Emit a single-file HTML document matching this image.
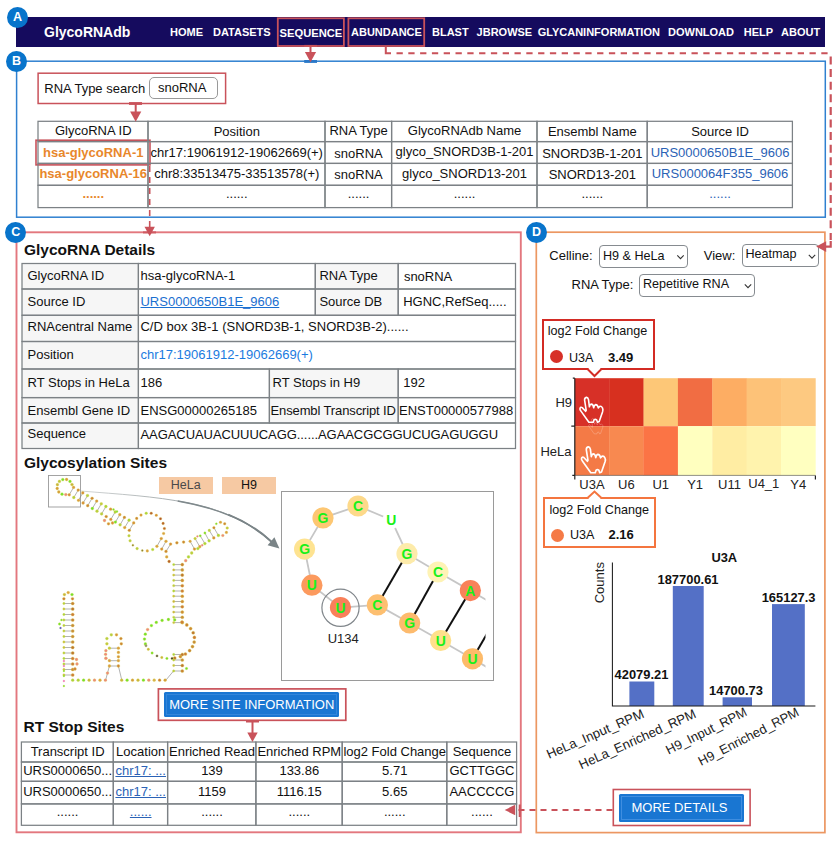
<!DOCTYPE html><html><head><meta charset="utf-8"><title>GlycoRNAdb</title><style>
*{box-sizing:border-box;margin:0;padding:0}
html,body{width:835px;height:842px;background:#fff;overflow:hidden}
body{font-family:"Liberation Sans",Arial,sans-serif;font-size:13px;color:#111;position:relative}
.abs{position:absolute}
.nav{position:absolute;left:16px;top:17px;width:809px;height:29.7px;background:#150b5e}
.nav span{position:absolute;top:0;height:30px;line-height:30px;color:#fff;font-weight:bold;font-size:11px;white-space:nowrap}
.nav .brand{font-size:14px}
.circ{position:absolute;width:21px;height:21px;border-radius:50%;background:#0874cb;color:#fff;font-weight:bold;font-size:12.5px;line-height:21px;text-align:center}
.box{position:absolute;border:1.8px solid}
.rbox{position:absolute;border:1.7px solid #c9525a}
table{border-collapse:collapse;position:absolute;table-layout:fixed}
td{border:2px solid #7c8185;text-align:center;white-space:nowrap;overflow:hidden;font-size:13px;padding:0}
.tb td{height:21.5px}
.or{color:#e8872b;font-weight:bold}
.lk{color:#2b62b5}
.dt td{text-align:left;padding-left:3px}
.dt td.h{background:#f5f5f5;padding-left:6px}
.h2{position:absolute;font-weight:bold;font-size:15.5px;white-space:nowrap;color:#111}
a{color:#1a6fd0;text-decoration:underline}
.btn{position:absolute;background:#1976d2;color:#fff;font-size:13px;text-align:center;white-space:nowrap;border-radius:1.5px}
.sel{position:absolute;border:1px solid #868b90;border-radius:4px;background:#fff;font-size:12.6px;white-space:nowrap;padding-left:4px}
.lbl{position:absolute;white-space:nowrap;font-size:13px}
.d{font-size:12.6px}
.tip{position:absolute;background:#fff;border:2px solid}
.leg{position:absolute;background:#f6c9a3;text-align:center;font-size:12px;color:#333}
</style></head><body><div class="nav"><span class="brand" style="left:28px">GlycoRNAdb</span><span class="" style="left:154px">HOME</span><span class="" style="left:197px">DATASETS</span><span class="" style="left:263.5px;top:0.8px;font-size:11.2px">SEQUENCE</span><span class="" style="left:335px">ABUNDANCE</span><span class="" style="left:416px">BLAST</span><span class="" style="left:460.6px">JBROWSE</span><span class="" style="left:521.7px">GLYCANINFORMATION</span><span class="" style="left:652px">DOWNLOAD</span><span class="" style="left:727.7px">HELP</span><span class="" style="left:765px">ABOUT</span></div>
<svg class="abs" style="left:0;top:0" width="835" height="842" viewBox="0 0 835 842"><rect x="16.6" y="61.2" width="808.6999999999999" height="156.0" fill="none" stroke="#2f80d0" stroke-width="1.5"/><rect x="16.5" y="232.3" width="504.29999999999995" height="600.0" fill="none" stroke="#e3777e" stroke-width="1.9"/><rect x="536.3" y="232.2" width="288.6" height="600.4000000000001" fill="none" stroke="#ec9762" stroke-width="1.7"/><rect x="277.8" y="18.3" width="66.09999999999997" height="27.7" fill="none" stroke="#c9525a" stroke-width="1.8"/><rect x="348.4" y="18.3" width="75.80000000000001" height="27.7" fill="none" stroke="#c9525a" stroke-width="1.8"/><rect x="38.1" y="73.2" width="187.5" height="30.299999999999997" fill="none" stroke="#c9525a" stroke-width="1.5"/><rect x="158.4" y="688.9" width="187.4" height="31.399999999999977" fill="none" stroke="#c9525a" stroke-width="1.7"/><rect x="613.3" y="789.5" width="136.80000000000007" height="36.0" fill="none" stroke="#c9525a" stroke-width="1.6"/></svg>
<div class="lbl" style="left:44.3px;top:80.5px;line-height:16px">RNA Type search</div>
<div class="sel" style="left:149px;top:77px;width:68.5px;height:22px;line-height:20px;border-radius:5px;padding-left:8px;border-color:#999;font-size:13px">snoRNA</div>
<div class="abs" style="left:38.00px;top:121.30px;width:110.00px;height:20.30px;background:#fff;text-align:center;padding-left:0.5px;line-height:20.30px;white-space:nowrap;overflow:hidden;">GlycoRNA ID</div><div class="abs" style="left:148.00px;top:121.30px;width:177.00px;height:20.30px;background:#fff;text-align:center;padding-left:0.5px;line-height:22.30px;white-space:nowrap;overflow:hidden;">Position</div><div class="abs" style="left:325.00px;top:121.30px;width:66.60px;height:20.30px;background:#fff;text-align:center;padding-left:0.5px;line-height:19.70px;white-space:nowrap;overflow:hidden;">RNA Type</div><div class="abs" style="left:391.60px;top:121.30px;width:145.40px;height:20.30px;background:#fff;text-align:center;padding-left:0.5px;line-height:19.70px;white-space:nowrap;overflow:hidden;">GlycoRNAdb Name</div><div class="abs" style="left:537.00px;top:121.30px;width:110.20px;height:20.30px;background:#fff;text-align:center;padding-left:0.5px;line-height:22.30px;white-space:nowrap;overflow:hidden;">Ensembl Name</div><div class="abs" style="left:647.20px;top:121.30px;width:145.20px;height:20.30px;background:#fff;text-align:center;padding-left:0.5px;line-height:22.30px;white-space:nowrap;overflow:hidden;">Source ID</div><div class="abs" style="left:38.00px;top:141.60px;width:110.00px;height:21.80px;background:#fff;text-align:center;padding-left:0.5px;line-height:21.80px;white-space:nowrap;overflow:hidden;"><span class="or">hsa-glycoRNA-1</span></div><div class="abs" style="left:148.00px;top:141.60px;width:177.00px;height:21.80px;background:#fff;text-align:center;padding-left:0.5px;line-height:21.80px;white-space:nowrap;overflow:hidden;">chr17:19061912-19062669(+)</div><div class="abs" style="left:325.00px;top:141.60px;width:66.60px;height:21.80px;background:#fff;text-align:center;padding-left:0.5px;line-height:23.80px;white-space:nowrap;overflow:hidden;">snoRNA</div><div class="abs" style="left:391.60px;top:141.60px;width:145.40px;height:21.80px;background:#fff;text-align:center;padding-left:0.5px;line-height:20.80px;white-space:nowrap;overflow:hidden;">glyco_SNORD3B-1-201</div><div class="abs" style="left:537.00px;top:141.60px;width:110.20px;height:21.80px;background:#fff;text-align:center;padding-left:0.5px;line-height:23.80px;white-space:nowrap;overflow:hidden;">SNORD3B-1-201</div><div class="abs" style="left:647.20px;top:141.60px;width:145.20px;height:21.80px;background:#fff;text-align:center;padding-left:0.5px;line-height:21.80px;white-space:nowrap;overflow:hidden;"><span class="lk">URS0000650B1E_9606</span></div><div class="abs" style="left:38.00px;top:163.40px;width:110.00px;height:21.90px;background:#fff;text-align:center;padding-left:0.5px;line-height:21.90px;white-space:nowrap;overflow:hidden;"><span class="or">hsa-glycoRNA-16</span></div><div class="abs" style="left:148.00px;top:163.40px;width:177.00px;height:21.90px;background:#fff;text-align:center;padding-left:0.5px;line-height:21.90px;white-space:nowrap;overflow:hidden;">chr8:33513475-33513578(+)</div><div class="abs" style="left:325.00px;top:163.40px;width:66.60px;height:21.90px;background:#fff;text-align:center;padding-left:0.5px;line-height:23.90px;white-space:nowrap;overflow:hidden;">snoRNA</div><div class="abs" style="left:391.60px;top:163.40px;width:145.40px;height:21.90px;background:#fff;text-align:center;padding-left:0.5px;line-height:21.30px;white-space:nowrap;overflow:hidden;">glyco_SNORD13-201</div><div class="abs" style="left:537.00px;top:163.40px;width:110.20px;height:21.90px;background:#fff;text-align:center;padding-left:0.5px;line-height:23.50px;white-space:nowrap;overflow:hidden;">SNORD13-201</div><div class="abs" style="left:647.20px;top:163.40px;width:145.20px;height:21.90px;background:#fff;text-align:center;padding-left:0.5px;line-height:21.90px;white-space:nowrap;overflow:hidden;"><span class="lk">URS000064F355_9606</span></div><div class="abs" style="left:38.00px;top:185.30px;width:110.00px;height:22.30px;background:#fff;text-align:center;padding-left:0.5px;line-height:17.10px;white-space:nowrap;overflow:hidden;"><span class="or">......</span></div><div class="abs" style="left:148.00px;top:185.30px;width:177.00px;height:22.30px;background:#fff;text-align:center;padding-left:0.5px;line-height:17.10px;white-space:nowrap;overflow:hidden;">......</div><div class="abs" style="left:325.00px;top:185.30px;width:66.60px;height:22.30px;background:#fff;text-align:center;padding-left:0.5px;line-height:17.10px;white-space:nowrap;overflow:hidden;">......</div><div class="abs" style="left:391.60px;top:185.30px;width:145.40px;height:22.30px;background:#fff;text-align:center;padding-left:0.5px;line-height:17.10px;white-space:nowrap;overflow:hidden;">......</div><div class="abs" style="left:537.00px;top:185.30px;width:110.20px;height:22.30px;background:#fff;text-align:center;padding-left:0.5px;line-height:17.10px;white-space:nowrap;overflow:hidden;">......</div><div class="abs" style="left:647.20px;top:185.30px;width:145.20px;height:22.30px;background:#fff;text-align:center;padding-left:0.5px;line-height:17.10px;white-space:nowrap;overflow:hidden;"><span class="lk">......</span></div>
<div class="h2" style="left:24px;top:240.6px;line-height:18px">GlycoRNA Details</div>
<div class="abs" style="left:22.00px;top:263.50px;width:116.40px;height:25.50px;background:#f6f6f6;text-align:left;padding-left:5.5px;line-height:23.70px;white-space:nowrap;overflow:hidden;">GlycoRNA ID</div><div class="abs" style="left:138.40px;top:263.50px;width:176.90px;height:25.50px;background:#fff;text-align:left;padding-left:2.1px;line-height:23.70px;white-space:nowrap;overflow:hidden;">hsa-glycoRNA-1</div><div class="abs" style="left:315.30px;top:263.50px;width:82.90px;height:25.50px;background:#f6f6f6;text-align:left;padding-left:4.1px;line-height:23.70px;white-space:nowrap;overflow:hidden;">RNA Type</div><div class="abs" style="left:398.20px;top:263.50px;width:117.30px;height:25.50px;background:#fff;text-align:left;padding-left:5.7px;line-height:23.70px;white-space:nowrap;overflow:hidden;"><span style="position:relative;top:1.3px">snoRNA</span></div><div class="abs" style="left:22.00px;top:289.00px;width:116.40px;height:26.30px;background:#f6f6f6;text-align:left;padding-left:5.5px;line-height:25.30px;white-space:nowrap;overflow:hidden;">Source ID</div><div class="abs" style="left:138.40px;top:289.00px;width:176.90px;height:26.30px;background:#fff;text-align:left;padding-left:2.1px;line-height:25.30px;white-space:nowrap;overflow:hidden;"><a>URS0000650B1E_9606</a></div><div class="abs" style="left:315.30px;top:289.00px;width:82.90px;height:26.30px;background:#f6f6f6;text-align:left;padding-left:4.1px;line-height:25.30px;white-space:nowrap;overflow:hidden;">Source DB</div><div class="abs" style="left:398.20px;top:289.00px;width:117.30px;height:26.30px;background:#fff;text-align:left;padding-left:5.0px;line-height:25.30px;white-space:nowrap;overflow:hidden;">HGNC,RefSeq.....</div><div class="abs" style="left:22.00px;top:315.30px;width:116.40px;height:26.20px;background:#f6f6f6;text-align:left;padding-left:5.5px;line-height:24.80px;white-space:nowrap;overflow:hidden;">RNAcentral Name</div><div class="abs" style="left:138.40px;top:315.30px;width:377.10px;height:26.20px;background:#fff;text-align:left;padding-left:2.1px;line-height:24.80px;white-space:nowrap;overflow:hidden;">C/D box 3B-1 (SNORD3B-1, SNORD3B-2)......</div><div class="abs" style="left:22.00px;top:341.50px;width:116.40px;height:27.50px;background:#f6f6f6;text-align:left;padding-left:5.5px;line-height:26.50px;white-space:nowrap;overflow:hidden;">Position</div><div class="abs" style="left:138.40px;top:341.50px;width:377.10px;height:27.50px;background:#fff;text-align:left;padding-left:2.1px;line-height:26.50px;white-space:nowrap;overflow:hidden;"><span style="color:#1a7be0">chr17:19061912-19062669(+)</span></div><div class="abs" style="left:22.00px;top:369.00px;width:116.40px;height:28.60px;background:#f6f6f6;text-align:left;padding-left:5.5px;line-height:28.00px;white-space:nowrap;overflow:hidden;">RT Stops in HeLa</div><div class="abs" style="left:138.40px;top:369.00px;width:131.00px;height:28.60px;background:#fff;text-align:left;padding-left:2.1px;line-height:28.00px;white-space:nowrap;overflow:hidden;">186</div><div class="abs" style="left:269.40px;top:369.00px;width:128.80px;height:28.60px;background:#f6f6f6;text-align:left;padding-left:3.1px;line-height:28.00px;white-space:nowrap;overflow:hidden;">RT Stops in H9</div><div class="abs" style="left:398.20px;top:369.00px;width:117.30px;height:28.60px;background:#fff;text-align:left;padding-left:5.0px;line-height:28.00px;white-space:nowrap;overflow:hidden;">192</div><div class="abs" style="left:22.00px;top:397.60px;width:116.40px;height:25.40px;background:#f6f6f6;text-align:left;padding-left:5.5px;line-height:26.20px;white-space:nowrap;overflow:hidden;">Ensembl Gene ID</div><div class="abs" style="left:138.40px;top:397.60px;width:131.00px;height:25.40px;background:#fff;text-align:left;padding-left:2.1px;line-height:26.20px;white-space:nowrap;overflow:hidden;">ENSG00000265185</div><div class="abs" style="left:269.40px;top:397.60px;width:128.80px;height:25.40px;background:#f6f6f6;text-align:left;padding-left:1.1px;line-height:26.20px;white-space:nowrap;overflow:hidden;"><span style="letter-spacing:-0.12px">Ensembl Transcript ID</span></div><div class="abs" style="left:398.20px;top:397.60px;width:117.30px;height:25.40px;background:#fff;text-align:left;padding-left:0.8px;line-height:26.20px;white-space:nowrap;overflow:hidden;">ENST00000577988</div><div class="abs" style="left:22.00px;top:423.00px;width:116.40px;height:25.50px;background:#f6f6f6;text-align:left;padding-left:5.5px;line-height:22.70px;white-space:nowrap;overflow:hidden;">Sequence</div><div class="abs" style="left:138.40px;top:423.00px;width:377.10px;height:25.50px;background:#fff;text-align:left;padding-left:2.1px;line-height:24.50px;white-space:nowrap;overflow:hidden;"><span style="letter-spacing:-0.07px">AAGACUAUACUUUCAGG......AGAACGCGGUCUGAGUGGU</span></div>
<div class="h2" style="left:24px;top:453.6px;line-height:18px">Glycosylation Sites</div>
<div class="leg" style="left:159px;top:476.8px;width:53.5px;height:17.2px;line-height:17.4px;color:#4a4a4a;font-size:12.5px">HeLa</div>
<div class="leg" style="left:222px;top:476.8px;width:53.8px;height:17.2px;line-height:17.4px;color:#111;font-size:12.5px">H9</div>
<div class="abs" style="left:280.5px;top:491px;width:213.5px;height:189.5px;border:1px solid #9a9a9a"></div>
<div class="btn" style="left:164px;top:692px;width:175px;height:25px;line-height:25.5px;text-indent:0.5px;outline:1px solid #3285da;outline-offset:-3.5px">MORE SITE INFORMATION</div>
<div class="h2" style="left:23.5px;top:718px;line-height:18px">RT Stop Sites</div>
<div class="abs" style="left:21.40px;top:742.00px;width:91.90px;height:20.00px;background:#fff;text-align:center;padding-left:0.5px;line-height:20.80px;white-space:nowrap;overflow:hidden;">Transcript ID</div><div class="abs" style="left:113.30px;top:742.00px;width:54.30px;height:20.00px;background:#fff;text-align:center;padding-left:0.5px;line-height:20.80px;white-space:nowrap;overflow:hidden;">Location</div><div class="abs" style="left:167.60px;top:742.00px;width:88.30px;height:20.00px;background:#fff;text-align:center;padding-left:0.5px;line-height:20.80px;white-space:nowrap;overflow:hidden;">Enriched Read</div><div class="abs" style="left:255.90px;top:742.00px;width:86.30px;height:20.00px;background:#fff;text-align:center;padding-left:0.5px;line-height:20.80px;white-space:nowrap;overflow:hidden;">Enriched RPM</div><div class="abs" style="left:342.20px;top:742.00px;width:104.60px;height:20.00px;background:#fff;text-align:center;padding-left:0.5px;line-height:20.80px;white-space:nowrap;overflow:hidden;">log2 Fold Change</div><div class="abs" style="left:446.80px;top:742.00px;width:69.80px;height:20.00px;background:#fff;text-align:center;padding-left:0.5px;line-height:20.80px;white-space:nowrap;overflow:hidden;">Sequence</div><div class="abs" style="left:21.40px;top:762.00px;width:91.90px;height:19.30px;background:#fff;text-align:center;padding-left:0.5px;line-height:18.70px;white-space:nowrap;overflow:hidden;">URS0000650...</div><div class="abs" style="left:113.30px;top:762.00px;width:54.30px;height:19.30px;background:#fff;text-align:center;padding-left:0.5px;line-height:18.70px;white-space:nowrap;overflow:hidden;"><a style="color:#2b62b5">chr17: ...</a></div><div class="abs" style="left:167.60px;top:762.00px;width:88.30px;height:19.30px;background:#fff;text-align:center;padding-left:0.5px;line-height:18.70px;white-space:nowrap;overflow:hidden;">139</div><div class="abs" style="left:255.90px;top:762.00px;width:86.30px;height:19.30px;background:#fff;text-align:center;padding-left:0.5px;line-height:18.70px;white-space:nowrap;overflow:hidden;">133.86</div><div class="abs" style="left:342.20px;top:762.00px;width:104.60px;height:19.30px;background:#fff;text-align:center;padding-left:0.5px;line-height:18.70px;white-space:nowrap;overflow:hidden;">5.71</div><div class="abs" style="left:446.80px;top:762.00px;width:69.80px;height:19.30px;background:#fff;text-align:center;padding-left:0.5px;line-height:18.70px;white-space:nowrap;overflow:hidden;">GCTTGGC</div><div class="abs" style="left:21.40px;top:781.30px;width:91.90px;height:22.60px;background:#fff;text-align:center;padding-left:0.5px;line-height:22.00px;white-space:nowrap;overflow:hidden;">URS0000650...</div><div class="abs" style="left:113.30px;top:781.30px;width:54.30px;height:22.60px;background:#fff;text-align:center;padding-left:0.5px;line-height:22.00px;white-space:nowrap;overflow:hidden;"><a style="color:#2b62b5">chr17: ...</a></div><div class="abs" style="left:167.60px;top:781.30px;width:88.30px;height:22.60px;background:#fff;text-align:center;padding-left:0.5px;line-height:22.00px;white-space:nowrap;overflow:hidden;">1159</div><div class="abs" style="left:255.90px;top:781.30px;width:86.30px;height:22.60px;background:#fff;text-align:center;padding-left:0.5px;line-height:22.00px;white-space:nowrap;overflow:hidden;">1116.15</div><div class="abs" style="left:342.20px;top:781.30px;width:104.60px;height:22.60px;background:#fff;text-align:center;padding-left:0.5px;line-height:22.00px;white-space:nowrap;overflow:hidden;">5.65</div><div class="abs" style="left:446.80px;top:781.30px;width:69.80px;height:22.60px;background:#fff;text-align:center;padding-left:0.5px;line-height:22.00px;white-space:nowrap;overflow:hidden;">AACCCCG</div><div class="abs" style="left:21.40px;top:803.90px;width:91.90px;height:21.40px;background:#fff;text-align:center;padding-left:0.5px;line-height:15.00px;white-space:nowrap;overflow:hidden;">......</div><div class="abs" style="left:113.30px;top:803.90px;width:54.30px;height:21.40px;background:#fff;text-align:center;padding-left:0.5px;line-height:15.00px;white-space:nowrap;overflow:hidden;"><a style="color:#2b62b5">......</a></div><div class="abs" style="left:167.60px;top:803.90px;width:88.30px;height:21.40px;background:#fff;text-align:center;padding-left:0.5px;line-height:15.00px;white-space:nowrap;overflow:hidden;">......</div><div class="abs" style="left:255.90px;top:803.90px;width:86.30px;height:21.40px;background:#fff;text-align:center;padding-left:0.5px;line-height:15.00px;white-space:nowrap;overflow:hidden;">......</div><div class="abs" style="left:342.20px;top:803.90px;width:104.60px;height:21.40px;background:#fff;text-align:center;padding-left:0.5px;line-height:15.00px;white-space:nowrap;overflow:hidden;">......</div><div class="abs" style="left:446.80px;top:803.90px;width:69.80px;height:21.40px;background:#fff;text-align:center;padding-left:0.5px;line-height:15.00px;white-space:nowrap;overflow:hidden;">......</div>
<div class="lbl" style="left:549.3px;top:248px;line-height:16px">Celline:</div>
<div class="sel" style="left:598.5px;top:244.5px;width:89.5px;height:23px;line-height:21px;padding-left:3.4px">H9 &amp; HeLa</div>
<div class="lbl" style="left:703.8px;top:248px;line-height:16px">View:</div>
<div class="sel" style="left:741.5px;top:244px;width:77.5px;height:22.5px;line-height:19px;padding-left:3px">Heatmap</div>
<div class="lbl" style="left:571.5px;top:276.5px;line-height:16px">RNA Type:</div>
<div class="sel" style="left:639px;top:273.5px;width:115.5px;height:23px;line-height:19px;padding-left:3px">Repetitive RNA</div>
<div class="tip" style="left:541.5px;top:319px;width:113px;height:51px;border-color:#d32b24"></div>
<div class="lbl d" style="left:547.8px;top:322.8px;line-height:16px">log2 Fold Change</div>
<div class="abs" style="left:549.5px;top:350px;width:13px;height:13px;border-radius:50%;background:#d73027"></div>
<div class="lbl d" style="left:569px;top:349.5px;line-height:16px">U3A</div>
<div class="lbl d" style="left:608px;top:349.5px;line-height:16px;font-weight:bold;font-size:13px">3.49</div>
<div class="tip" style="left:542.5px;top:497px;width:113px;height:50.5px;border-color:#f4753f"></div>
<div class="lbl d" style="left:549.5px;top:502px;line-height:16px">log2 Fold Change</div>
<div class="abs" style="left:551.2px;top:528.5px;width:13px;height:13px;border-radius:50%;background:#f57a46"></div>
<div class="lbl d" style="left:570px;top:527px;line-height:16px">U3A</div>
<div class="lbl d" style="left:608.5px;top:527.3px;line-height:16px;font-weight:bold;font-size:13px">2.16</div>
<div class="btn" style="left:619.4px;top:794.2px;width:124.6px;height:27.5px;line-height:27.5px;font-size:13px;outline:1px solid #3f8ee0;outline-offset:-3.5px;padding-right:4.6px">MORE DETAILS</div>
<svg class="abs" style="left:0;top:0" width="835" height="842" viewBox="0 0 835 842" font-family="Liberation Sans, Arial, sans-serif"><rect x="36.0" y="140.2" width="114.0" height="24.700000000000017" fill="none" stroke="#c9525a" stroke-width="1.6"/><g fill="none" stroke="#7c8185" stroke-width="1.25"><rect x="38.0" y="121.3" width="110.0" height="20.3"/><rect x="148.0" y="121.3" width="177.0" height="20.3"/><rect x="325.0" y="121.3" width="66.6" height="20.3"/><rect x="391.6" y="121.3" width="145.4" height="20.3"/><rect x="537.0" y="121.3" width="110.2" height="20.3"/><rect x="647.2" y="121.3" width="145.2" height="20.3"/><rect x="38.0" y="141.6" width="110.0" height="21.8"/><rect x="148.0" y="141.6" width="177.0" height="21.8"/><rect x="325.0" y="141.6" width="66.6" height="21.8"/><rect x="391.6" y="141.6" width="145.4" height="21.8"/><rect x="537.0" y="141.6" width="110.2" height="21.8"/><rect x="647.2" y="141.6" width="145.2" height="21.8"/><rect x="38.0" y="163.4" width="110.0" height="21.9"/><rect x="148.0" y="163.4" width="177.0" height="21.9"/><rect x="325.0" y="163.4" width="66.6" height="21.9"/><rect x="391.6" y="163.4" width="145.4" height="21.9"/><rect x="537.0" y="163.4" width="110.2" height="21.9"/><rect x="647.2" y="163.4" width="145.2" height="21.9"/><rect x="38.0" y="185.3" width="110.0" height="22.3"/><rect x="148.0" y="185.3" width="177.0" height="22.3"/><rect x="325.0" y="185.3" width="66.6" height="22.3"/><rect x="391.6" y="185.3" width="145.4" height="22.3"/><rect x="537.0" y="185.3" width="110.2" height="22.3"/><rect x="647.2" y="185.3" width="145.2" height="22.3"/><rect x="22.0" y="263.5" width="116.4" height="25.5"/><rect x="138.4" y="263.5" width="176.9" height="25.5"/><rect x="315.3" y="263.5" width="82.9" height="25.5"/><rect x="398.2" y="263.5" width="117.3" height="25.5"/><rect x="22.0" y="289.0" width="116.4" height="26.3"/><rect x="138.4" y="289.0" width="176.9" height="26.3"/><rect x="315.3" y="289.0" width="82.9" height="26.3"/><rect x="398.2" y="289.0" width="117.3" height="26.3"/><rect x="22.0" y="315.3" width="116.4" height="26.2"/><rect x="138.4" y="315.3" width="377.1" height="26.2"/><rect x="22.0" y="341.5" width="116.4" height="27.5"/><rect x="138.4" y="341.5" width="377.1" height="27.5"/><rect x="22.0" y="369.0" width="116.4" height="28.6"/><rect x="138.4" y="369.0" width="131.0" height="28.6"/><rect x="269.4" y="369.0" width="128.8" height="28.6"/><rect x="398.2" y="369.0" width="117.3" height="28.6"/><rect x="22.0" y="397.6" width="116.4" height="25.4"/><rect x="138.4" y="397.6" width="131.0" height="25.4"/><rect x="269.4" y="397.6" width="128.8" height="25.4"/><rect x="398.2" y="397.6" width="117.3" height="25.4"/><rect x="22.0" y="423.0" width="116.4" height="25.5"/><rect x="138.4" y="423.0" width="377.1" height="25.5"/><rect x="21.4" y="742.0" width="91.9" height="20.0"/><rect x="113.3" y="742.0" width="54.3" height="20.0"/><rect x="167.6" y="742.0" width="88.3" height="20.0"/><rect x="255.9" y="742.0" width="86.3" height="20.0"/><rect x="342.2" y="742.0" width="104.6" height="20.0"/><rect x="446.8" y="742.0" width="69.8" height="20.0"/><rect x="21.4" y="762.0" width="91.9" height="19.3"/><rect x="113.3" y="762.0" width="54.3" height="19.3"/><rect x="167.6" y="762.0" width="88.3" height="19.3"/><rect x="255.9" y="762.0" width="86.3" height="19.3"/><rect x="342.2" y="762.0" width="104.6" height="19.3"/><rect x="446.8" y="762.0" width="69.8" height="19.3"/><rect x="21.4" y="781.3" width="91.9" height="22.6"/><rect x="113.3" y="781.3" width="54.3" height="22.6"/><rect x="167.6" y="781.3" width="88.3" height="22.6"/><rect x="255.9" y="781.3" width="86.3" height="22.6"/><rect x="342.2" y="781.3" width="104.6" height="22.6"/><rect x="446.8" y="781.3" width="69.8" height="22.6"/><rect x="21.4" y="803.9" width="91.9" height="21.4"/><rect x="113.3" y="803.9" width="54.3" height="21.4"/><rect x="167.6" y="803.9" width="88.3" height="21.4"/><rect x="255.9" y="803.9" width="86.3" height="21.4"/><rect x="342.2" y="803.9" width="104.6" height="21.4"/><rect x="446.8" y="803.9" width="69.8" height="21.4"/></g><rect x="304.2" y="60.0" width="12.8" height="2.9" fill="#2a78c8"/><line x1="310.5" y1="46" x2="310.5" y2="53.099999999999994" stroke="#c9525a" stroke-width="2"/><polygon points="304.9,52.099999999999994 316.1,52.099999999999994 310.5,62.3" fill="#c9525a"/><rect x="304.2" y="44.9" width="12.8" height="2.1" fill="#c9525a"/><line x1="135.7" y1="103" x2="135.7" y2="112.39999999999999" stroke="#c9525a" stroke-width="2"/><polygon points="130.1,111.39999999999999 141.29999999999998,111.39999999999999 135.7,121.8" fill="#c9525a"/><rect x="129" y="102.1" width="13" height="2.8" fill="#c9525a"/><line x1="149.7" y1="166" x2="149.7" y2="227.7" stroke="#c9525a" stroke-width="1.6" stroke-dasharray="6 5"/><polygon points="144.5,226.7 154.89999999999998,226.7 149.7,236.2" fill="#c9525a"/><rect x="143" y="231.3" width="13" height="2.2" fill="#c9525a" opacity="0.75"/><path d="M385.8 46.5 V53.3 H391" fill="none" stroke="#c9525a" stroke-width="2"/><path d="M396.5 53.3 H830.7" fill="none" stroke="#c9525a" stroke-width="2" stroke-dasharray="6.3 5.5"/><path d="M830.7 56.5 V240" fill="none" stroke="#c9525a" stroke-width="2.2" stroke-dasharray="8 4.6"/><path d="M830.7 241 V246.6 H825" fill="none" stroke="#c9525a" stroke-width="2.2"/><polygon points="826.2,241.2 826.2,252 816.2,246.6" fill="#c9525a"/><line x1="252.5" y1="721" x2="252.5" y2="733.5" stroke="#c9525a" stroke-width="2"/><polygon points="247.3,732.5 257.7,732.5 252.5,742" fill="#c9525a"/><rect x="246" y="720" width="13" height="2.5" fill="#c9525a"/><line x1="612.5" y1="810" x2="514.2" y2="810" stroke="#c9525a" stroke-width="2" stroke-dasharray="6 5"/><polygon points="515.2,804.8 515.2,815.2 504.7,810" fill="#c9525a"/><rect x="518.7" y="804.5" width="2" height="12.5" fill="#c9525a"/><path d="M677.3 255.4 L680.5 258.6 L683.7 255.4" fill="none" stroke="#333" stroke-width="1.1"/><path d="M808.8 254.9 L812 258.1 L815.2 254.9" fill="none" stroke="#333" stroke-width="1.1"/><path d="M744.8 284.4 L748 287.6 L751.2 284.4" fill="none" stroke="#333" stroke-width="1.1"/><rect x="574.80" y="378.2" width="34.67" height="48.0" fill="#d73027"/><rect x="574.80" y="426.2" width="34.67" height="49.19999999999999" fill="#f47a46"/><rect x="609.17" y="378.2" width="34.67" height="48.0" fill="#d7301f"/><rect x="609.17" y="426.2" width="34.67" height="49.19999999999999" fill="#f88950"/><rect x="643.54" y="378.2" width="34.67" height="48.0" fill="#fdc777"/><rect x="643.54" y="426.2" width="34.67" height="49.19999999999999" fill="#fb7445"/><rect x="677.91" y="378.2" width="34.67" height="48.0" fill="#f16d43"/><rect x="677.91" y="426.2" width="34.67" height="49.19999999999999" fill="#ffffbf"/><rect x="712.29" y="378.2" width="34.67" height="48.0" fill="#fdad63"/><rect x="712.29" y="426.2" width="34.67" height="49.19999999999999" fill="#ffeda3"/><rect x="746.66" y="378.2" width="34.67" height="48.0" fill="#fdc278"/><rect x="746.66" y="426.2" width="34.67" height="49.19999999999999" fill="#fff3ad"/><rect x="781.03" y="378.2" width="34.67" height="48.0" fill="#fdc981"/><rect x="781.03" y="426.2" width="34.67" height="49.19999999999999" fill="#ffffc0"/><path d="M574.8 378.2 V479.4 M572.8 378.2 H574.8 M571.3 426.2 H574.8 M572.3 475.4 H574.8 M815.4 475.4 V479.4" stroke="#222" stroke-width="1.2" fill="none"/><path d="M574.8 475.4 H815.4" stroke="#444" stroke-width="0.6"/><text x="572" y="407" font-size="13" text-anchor="end" fill="#222">H9</text><text x="571.5" y="456" font-size="13" text-anchor="end" fill="#222">HeLa</text><text x="592.0" y="488.5" font-size="13" text-anchor="middle" fill="#222">U3A</text><text x="626.4" y="488.5" font-size="13" text-anchor="middle" fill="#222">U6</text><text x="660.7" y="488.5" font-size="13" text-anchor="middle" fill="#222">U1</text><text x="695.1" y="488.5" font-size="13" text-anchor="middle" fill="#222">Y1</text><text x="729.5" y="488.5" font-size="13" text-anchor="middle" fill="#222">U11</text><text x="763.8" y="487.5" font-size="13" text-anchor="middle" fill="#222">U4_1</text><text x="798.2" y="488.5" font-size="13" text-anchor="middle" fill="#222">Y4</text><path d="M587.5 369 L594.5 376 L601.5 369" fill="#fff" stroke="#d32b24" stroke-width="2"/><rect x="588.7" y="366.5" width="11.6" height="2.6" fill="#fff"/><path d="M587.5 498 L594.5 491.5 L601.5 498" fill="#fff" stroke="#f4753f" stroke-width="2"/><rect x="588.7" y="498" width="11.6" height="2.6" fill="#fff"/><g transform="translate(574 391) scale(1.0)" opacity="1"><path d="M11.6 20.3 L8.2 16.6 Q6.6 15.7 6.0 17.4 Q5.7 18.8 6.8 19.9 L14.9 31.3 H19.2 L20.0 28.8 Q21.3 27.9 22.6 28.8 L23.5 31.3 L25.2 30.6 L28.6 20.8 Q29.3 18.4 28.5 17.0 Q27.3 14.7 25.6 15.5 L24.3 16.9 Q23.6 13.5 21.6 13.6 Q20.2 13.9 19.7 16.8 Q19.2 13.1 17.2 13.1 Q15.8 13.4 15.4 15.8 L14.5 8.6 Q13.9 6.2 12.4 6.4 Q10.4 6.9 10.6 9.2 L12.2 19.4 Z" fill="none" stroke="#fff" stroke-width="1.6" stroke-linejoin="round" stroke-linecap="round"/></g><g transform="translate(575.3 440.2) scale(1.04)" opacity="1"><path d="M11.6 20.3 L8.2 16.6 Q6.6 15.7 6.0 17.4 Q5.7 18.8 6.8 19.9 L14.9 31.3 H19.2 L20.0 28.8 Q21.3 27.9 22.6 28.8 L23.5 31.3 L25.2 30.6 L28.6 20.8 Q29.3 18.4 28.5 17.0 Q27.3 14.7 25.6 15.5 L24.3 16.9 Q23.6 13.5 21.6 13.6 Q20.2 13.9 19.7 16.8 Q19.2 13.1 17.2 13.1 Q15.8 13.4 15.4 15.8 L14.5 8.6 Q13.9 6.2 12.4 6.4 Q10.4 6.9 10.6 9.2 L12.2 19.4 Z" fill="none" stroke="#fff" stroke-width="1.6" stroke-linejoin="round" stroke-linecap="round"/></g><g transform="translate(585 414.5) scale(0.62)" opacity="0.28"><path d="M11.6 20.3 L8.2 16.6 Q6.6 15.7 6.0 17.4 Q5.7 18.8 6.8 19.9 L14.9 31.3 H19.2 L20.0 28.8 Q21.3 27.9 22.6 28.8 L23.5 31.3 L25.2 30.6 L28.6 20.8 Q29.3 18.4 28.5 17.0 Q27.3 14.7 25.6 15.5 L24.3 16.9 Q23.6 13.5 21.6 13.6 Q20.2 13.9 19.7 16.8 Q19.2 13.1 17.2 13.1 Q15.8 13.4 15.4 15.8 L14.5 8.6 Q13.9 6.2 12.4 6.4 Q10.4 6.9 10.6 9.2 L12.2 19.4 Z" fill="none" stroke="#fff" stroke-width="1.2" stroke-linejoin="round" stroke-linecap="round"/></g><rect x="629.4" y="681.5" width="24.9" height="24.5" fill="#5470c6"/><text x="641.5" y="679.0" font-size="12.9" font-weight="bold" text-anchor="middle" fill="#111">42079.21</text><rect x="672.8" y="586" width="30.9" height="120.0" fill="#5470c6"/><text x="688" y="584.0" font-size="12.9" font-weight="bold" text-anchor="middle" fill="#111">187700.61</text><rect x="722.6" y="697.3" width="29.4" height="8.7" fill="#5470c6"/><text x="736" y="694.5" font-size="12.9" font-weight="bold" text-anchor="middle" fill="#111">14700.73</text><rect x="772" y="604.1" width="32.8" height="101.9" fill="#5470c6"/><text x="788.6" y="602.3000000000001" font-size="12.9" font-weight="bold" text-anchor="middle" fill="#111">165127.3</text><path d="M612.4 562.5 V706 H815.4" stroke="#1a1a1a" stroke-width="1.05" fill="none"/><text x="724.3" y="562.2" font-size="12.9" font-weight="bold" text-anchor="middle" fill="#111">U3A</text><text transform="translate(604.3 582.7) rotate(-90)" font-size="13" text-anchor="middle" fill="#222">Counts</text><text transform="translate(645 717) rotate(-23.6)" font-size="13.2" text-anchor="end" fill="#222">HeLa_Input_RPM</text><text transform="translate(697 717) rotate(-24.4)" font-size="13.15" text-anchor="end" fill="#222">HeLa_Enriched_RPM</text><text transform="translate(748 715) rotate(-26.6)" font-size="13" text-anchor="end" fill="#222">H9_Input_RPM</text><text transform="translate(800 715) rotate(-27.3)" font-size="13" text-anchor="end" fill="#222">H9_Enriched_RPM</text><g><clipPath id="zc"><rect x="281.5" y="492" width="204" height="187.5"/></clipPath><g clip-path="url(#zc)"><line x1="391.4" y1="520" x2="358" y2="506" stroke="#c6c6c6" stroke-width="1.8"/><line x1="358" y1="506" x2="323" y2="517.9" stroke="#c6c6c6" stroke-width="1.8"/><line x1="323" y1="517.9" x2="304.6" y2="549.1" stroke="#c6c6c6" stroke-width="1.8"/><line x1="304.6" y1="549.1" x2="311.9" y2="585.2" stroke="#c6c6c6" stroke-width="1.8"/><line x1="311.9" y1="585.2" x2="340.5" y2="607.6" stroke="#c6c6c6" stroke-width="1.8"/><line x1="340.5" y1="607.6" x2="377.4" y2="604.9" stroke="#c6c6c6" stroke-width="1.8"/><line x1="377.4" y1="604.9" x2="409.7" y2="623" stroke="#c6c6c6" stroke-width="1.8"/><line x1="409.7" y1="623" x2="440.7" y2="640.5" stroke="#c6c6c6" stroke-width="1.8"/><line x1="440.7" y1="640.5" x2="472.5" y2="658.8" stroke="#c6c6c6" stroke-width="1.8"/><line x1="472.5" y1="658.8" x2="504" y2="677" stroke="#c6c6c6" stroke-width="1.8"/><line x1="391.4" y1="520" x2="407" y2="553.7" stroke="#c6c6c6" stroke-width="1.8"/><line x1="407" y1="553.7" x2="438" y2="572" stroke="#c6c6c6" stroke-width="1.8"/><line x1="438" y1="572" x2="470.4" y2="590.6" stroke="#c6c6c6" stroke-width="1.8"/><line x1="470.4" y1="590.6" x2="502" y2="609" stroke="#c6c6c6" stroke-width="1.8"/><line x1="407" y1="553.7" x2="377.4" y2="604.9" stroke="#111" stroke-width="2"/><line x1="438" y1="572" x2="409.7" y2="623" stroke="#111" stroke-width="2"/><line x1="470.4" y1="590.6" x2="440.7" y2="640.5" stroke="#111" stroke-width="2"/><line x1="472.5" y1="658.8" x2="504" y2="604.5" stroke="#111" stroke-width="2"/><circle cx="358" cy="506" r="10.6" fill="#fdd98a"/><circle cx="323" cy="517.9" r="10.6" fill="#fdc773"/><circle cx="304.6" cy="549.1" r="10.6" fill="#fee391"/><circle cx="311.9" cy="585.2" r="10.6" fill="#fc9a5e"/><circle cx="340.5" cy="607.6" r="10.6" fill="#f9805a"/><circle cx="377.4" cy="604.9" r="10.6" fill="#fdbf70"/><circle cx="409.7" cy="623" r="10.6" fill="#fdbb6e"/><circle cx="440.7" cy="640.5" r="10.6" fill="#fee08b"/><circle cx="472.5" cy="658.8" r="10.6" fill="#fdbb6a"/><circle cx="470.4" cy="590.6" r="10.6" fill="#f9825a"/><circle cx="438" cy="572" r="10.6" fill="#fef3b5"/><circle cx="407" cy="553.7" r="10.6" fill="#fdebaa"/><circle cx="391.4" cy="520" r="9" fill="#fff"/><text x="358" y="511" font-size="14" font-weight="bold" text-anchor="middle" fill="#19f019">C</text><text x="323" y="522.9" font-size="14" font-weight="bold" text-anchor="middle" fill="#19f019">G</text><text x="304.6" y="554.1" font-size="14" font-weight="bold" text-anchor="middle" fill="#19f019">G</text><text x="311.9" y="590.2" font-size="14" font-weight="bold" text-anchor="middle" fill="#19f019">U</text><text x="340.5" y="612.6" font-size="14" font-weight="bold" text-anchor="middle" fill="#19f019">U</text><text x="377.4" y="609.9" font-size="14" font-weight="bold" text-anchor="middle" fill="#19f019">C</text><text x="409.7" y="628" font-size="14" font-weight="bold" text-anchor="middle" fill="#19f019">G</text><text x="440.7" y="645.5" font-size="14" font-weight="bold" text-anchor="middle" fill="#19f019">U</text><text x="472.5" y="663.8" font-size="14" font-weight="bold" text-anchor="middle" fill="#19f019">U</text><text x="470.4" y="595.6" font-size="14" font-weight="bold" text-anchor="middle" fill="#19f019">A</text><text x="438" y="577" font-size="14" font-weight="bold" text-anchor="middle" fill="#19f019">C</text><text x="407" y="558.7" font-size="14" font-weight="bold" text-anchor="middle" fill="#19f019">G</text><text x="391.4" y="525" font-size="14" font-weight="bold" text-anchor="middle" fill="#19f019">U</text></g><circle cx="340.5" cy="607.8" r="18.6" fill="none" stroke="#80868b" stroke-width="1.2"/><text x="343.2" y="643" font-size="13" text-anchor="middle" fill="#222">U134</text></g><defs><linearGradient id="ag" gradientUnits="userSpaceOnUse" x1="80" y1="0" x2="275" y2="0"><stop offset="0" stop-color="#c8cccc"/><stop offset="0.5" stop-color="#8f9799"/><stop offset="1" stop-color="#7a8487"/></linearGradient></defs><path d="M80.7 491.0 C156.3 497.2 226.6 499.5 271.5 541.7" fill="none" stroke="url(#ag)" stroke-width="0.8"/><path d="M177.7 501.0 C214.4 507.3 246.8 518.5 271.5 541.7" fill="none" stroke="#7f898c" stroke-width="1.3"/><path d="M228.3 514.7 C244.4 521.2 258.9 529.9 271.5 541.7" fill="none" stroke="#7a8487" stroke-width="1.9"/><polygon points="279.4,548.4 267.6,545.3 274.4,537.3" fill="#7a8487"/><rect x="48.5" y="475.5" width="32" height="31.5" fill="none" stroke="#9a9a9a" stroke-width="0.9"/><g><line x1="69.2" y1="494.8" x2="73.6" y2="487.4" stroke="#808080" stroke-width="0.6"/><line x1="73.8" y1="497.5" x2="78.2" y2="490.1" stroke="#808080" stroke-width="0.6"/><line x1="78.5" y1="500.3" x2="82.8" y2="492.9" stroke="#808080" stroke-width="0.6"/><line x1="83.1" y1="503.0" x2="87.5" y2="495.6" stroke="#808080" stroke-width="0.6"/><line x1="87.7" y1="505.7" x2="92.1" y2="498.3" stroke="#808080" stroke-width="0.6"/><line x1="92.3" y1="508.5" x2="96.7" y2="501.1" stroke="#808080" stroke-width="0.6"/><line x1="97.0" y1="511.2" x2="101.3" y2="503.8" stroke="#808080" stroke-width="0.6"/><line x1="101.6" y1="513.9" x2="105.9" y2="506.5" stroke="#808080" stroke-width="0.6"/><line x1="110.8" y1="519.4" x2="115.2" y2="512.0" stroke="#808080" stroke-width="0.6"/><line x1="115.4" y1="522.1" x2="119.8" y2="514.7" stroke="#808080" stroke-width="0.6"/><line x1="120.1" y1="524.8" x2="124.4" y2="517.4" stroke="#808080" stroke-width="0.6"/><line x1="124.7" y1="527.6" x2="129.1" y2="520.2" stroke="#808080" stroke-width="0.6"/><line x1="129.3" y1="530.3" x2="133.7" y2="522.9" stroke="#808080" stroke-width="0.6"/><line x1="161.3" y1="538.6" x2="156.9" y2="546.3" stroke="#808080" stroke-width="0.6"/><line x1="166.0" y1="541.3" x2="161.7" y2="549.1" stroke="#808080" stroke-width="0.6"/><line x1="170.6" y1="544.1" x2="166.0" y2="551.4" stroke="#808080" stroke-width="0.6"/><line x1="190.1" y1="541.3" x2="194.5" y2="549.1" stroke="#808080" stroke-width="0.6"/><line x1="195.1" y1="538.6" x2="199.8" y2="546.7" stroke="#808080" stroke-width="0.6"/><line x1="200.2" y1="535.8" x2="204.9" y2="543.6" stroke="#808080" stroke-width="0.6"/><line x1="204.9" y1="533.0" x2="209.1" y2="540.8" stroke="#808080" stroke-width="0.6"/><line x1="209.3" y1="530.4" x2="213.8" y2="537.9" stroke="#808080" stroke-width="0.6"/><line x1="213.9" y1="527.7" x2="218.4" y2="535.4" stroke="#808080" stroke-width="0.6"/><line x1="173.7" y1="564.6" x2="182.3" y2="564.6" stroke="#808080" stroke-width="0.6"/><line x1="173.7" y1="569.9" x2="182.3" y2="569.9" stroke="#808080" stroke-width="0.6"/><line x1="173.7" y1="575.1" x2="182.3" y2="575.1" stroke="#808080" stroke-width="0.6"/><line x1="173.7" y1="580.4" x2="182.3" y2="580.4" stroke="#808080" stroke-width="0.6"/><line x1="173.7" y1="585.7" x2="182.3" y2="585.7" stroke="#808080" stroke-width="0.6"/><line x1="173.7" y1="591.0" x2="182.3" y2="591.0" stroke="#808080" stroke-width="0.6"/><line x1="173.7" y1="596.2" x2="182.3" y2="596.2" stroke="#808080" stroke-width="0.6"/><line x1="173.7" y1="601.5" x2="182.3" y2="601.5" stroke="#808080" stroke-width="0.6"/><line x1="173.7" y1="606.8" x2="182.3" y2="606.8" stroke="#808080" stroke-width="0.6"/><line x1="173.7" y1="612.1" x2="182.3" y2="612.1" stroke="#808080" stroke-width="0.6"/><line x1="173.7" y1="617.3" x2="182.3" y2="617.3" stroke="#808080" stroke-width="0.6"/><line x1="173.7" y1="622.6" x2="182.3" y2="622.6" stroke="#808080" stroke-width="0.6"/><line x1="173.7" y1="654.5" x2="182.3" y2="654.5" stroke="#808080" stroke-width="0.6"/><line x1="173.7" y1="660.0" x2="182.3" y2="660.0" stroke="#808080" stroke-width="0.6"/><line x1="173.7" y1="665.5" x2="182.3" y2="665.5" stroke="#808080" stroke-width="0.6"/><line x1="173.7" y1="671.0" x2="182.3" y2="671.0" stroke="#808080" stroke-width="0.6"/><line x1="166.0" y1="680.0" x2="173.5" y2="671.0" stroke="#808080" stroke-width="0.6"/><line x1="109.4" y1="648.2" x2="118.4" y2="648.2" stroke="#808080" stroke-width="0.6"/><line x1="109.4" y1="660.7" x2="118.4" y2="660.7" stroke="#808080" stroke-width="0.6"/><line x1="109.4" y1="666.0" x2="118.4" y2="666.0" stroke="#808080" stroke-width="0.6"/><line x1="109.4" y1="666.0" x2="105.6" y2="680.2" stroke="#808080" stroke-width="0.6"/><line x1="118.4" y1="666.0" x2="121.8" y2="680.2" stroke="#808080" stroke-width="0.6"/><line x1="63.9" y1="603.5" x2="72.7" y2="603.5" stroke="#808080" stroke-width="0.6"/><line x1="63.9" y1="609.0" x2="72.7" y2="609.0" stroke="#808080" stroke-width="0.6"/><line x1="63.9" y1="614.5" x2="72.7" y2="614.5" stroke="#808080" stroke-width="0.6"/><line x1="63.9" y1="620.0" x2="72.7" y2="620.0" stroke="#808080" stroke-width="0.6"/><line x1="63.9" y1="625.5" x2="72.7" y2="625.5" stroke="#808080" stroke-width="0.6"/><line x1="63.9" y1="631.0" x2="72.7" y2="631.0" stroke="#808080" stroke-width="0.6"/><line x1="63.9" y1="636.5" x2="72.7" y2="636.5" stroke="#808080" stroke-width="0.6"/><line x1="63.9" y1="642.0" x2="72.7" y2="642.0" stroke="#808080" stroke-width="0.6"/><line x1="63.9" y1="647.5" x2="72.7" y2="647.5" stroke="#808080" stroke-width="0.6"/><line x1="63.9" y1="653.0" x2="72.7" y2="653.0" stroke="#808080" stroke-width="0.6"/><line x1="63.9" y1="658.5" x2="72.7" y2="658.5" stroke="#808080" stroke-width="0.6"/><line x1="63.9" y1="664.0" x2="72.7" y2="664.0" stroke="#808080" stroke-width="0.6"/><line x1="63.9" y1="669.5" x2="72.7" y2="669.5" stroke="#808080" stroke-width="0.6"/><line x1="63.9" y1="675.0" x2="72.7" y2="675.0" stroke="#808080" stroke-width="0.6"/><circle cx="65.8" cy="494.6" r="1.4" fill="#f2837c" stroke="#d6d24a" stroke-width="0.35"/><circle cx="62.0" cy="494.2" r="1.4" fill="#6ee62a" stroke="#d6d24a" stroke-width="0.35"/><circle cx="58.8" cy="492.0" r="1.4" fill="#d79a3a" stroke="#d6d24a" stroke-width="0.35"/><circle cx="57.2" cy="488.5" r="1.4" fill="#d79a3a" stroke="#d6d24a" stroke-width="0.35"/><circle cx="57.4" cy="484.7" r="1.4" fill="#c9b53a" stroke="#d6d24a" stroke-width="0.35"/><circle cx="59.4" cy="481.4" r="1.4" fill="#b9c93a" stroke="#d6d24a" stroke-width="0.35"/><circle cx="62.8" cy="479.6" r="1.4" fill="#6ee62a" stroke="#d6d24a" stroke-width="0.35"/><circle cx="66.6" cy="479.5" r="1.4" fill="#d79a3a" stroke="#d6d24a" stroke-width="0.35"/><circle cx="70.0" cy="481.4" r="1.4" fill="#6ee62a" stroke="#d6d24a" stroke-width="0.35"/><circle cx="72.0" cy="484.6" r="1.4" fill="#c9b53a" stroke="#d6d24a" stroke-width="0.35"/><circle cx="69.2" cy="494.8" r="1.4" fill="#d88a3a" stroke="#d6d24a" stroke-width="0.35"/><circle cx="73.6" cy="487.4" r="1.4" fill="#dc9a40" stroke="#d6d24a" stroke-width="0.35"/><circle cx="73.8" cy="497.5" r="1.4" fill="#b5d040" stroke="#d6d24a" stroke-width="0.35"/><circle cx="78.2" cy="490.1" r="1.4" fill="#d88a3a" stroke="#d6d24a" stroke-width="0.35"/><circle cx="78.5" cy="500.3" r="1.4" fill="#dc9a40" stroke="#d6d24a" stroke-width="0.35"/><circle cx="82.8" cy="492.9" r="1.4" fill="#d88a3a" stroke="#d6d24a" stroke-width="0.35"/><circle cx="83.1" cy="503.0" r="1.4" fill="#d88a3a" stroke="#d6d24a" stroke-width="0.35"/><circle cx="87.5" cy="495.6" r="1.4" fill="#b5d040" stroke="#d6d24a" stroke-width="0.35"/><circle cx="87.7" cy="505.7" r="1.4" fill="#cf8236" stroke="#d6d24a" stroke-width="0.35"/><circle cx="92.1" cy="498.3" r="1.4" fill="#cf8236" stroke="#d6d24a" stroke-width="0.35"/><circle cx="92.3" cy="508.5" r="1.4" fill="#6ee62a" stroke="#d6d24a" stroke-width="0.35"/><circle cx="96.7" cy="501.1" r="1.4" fill="#d9923c" stroke="#d6d24a" stroke-width="0.35"/><circle cx="97.0" cy="511.2" r="1.4" fill="#b5d040" stroke="#d6d24a" stroke-width="0.35"/><circle cx="101.3" cy="503.8" r="1.4" fill="#c0cc3c" stroke="#d6d24a" stroke-width="0.35"/><circle cx="101.6" cy="513.9" r="1.4" fill="#b5d040" stroke="#d6d24a" stroke-width="0.35"/><circle cx="105.9" cy="506.5" r="1.4" fill="#a8d838" stroke="#d6d24a" stroke-width="0.35"/><circle cx="106.2" cy="516.6" r="1.4" fill="#cf8236" stroke="#d6d24a" stroke-width="0.35"/><circle cx="110.6" cy="509.2" r="1.4" fill="#d9923c" stroke="#d6d24a" stroke-width="0.35"/><circle cx="110.8" cy="519.4" r="1.4" fill="#d88a3a" stroke="#d6d24a" stroke-width="0.35"/><circle cx="115.2" cy="512.0" r="1.4" fill="#a8d838" stroke="#d6d24a" stroke-width="0.35"/><circle cx="115.4" cy="522.1" r="1.4" fill="#6ee62a" stroke="#d6d24a" stroke-width="0.35"/><circle cx="119.8" cy="514.7" r="1.4" fill="#dc9a40" stroke="#d6d24a" stroke-width="0.35"/><circle cx="120.1" cy="524.8" r="1.4" fill="#b5d040" stroke="#d6d24a" stroke-width="0.35"/><circle cx="124.4" cy="517.4" r="1.4" fill="#cf8236" stroke="#d6d24a" stroke-width="0.35"/><circle cx="124.7" cy="527.6" r="1.4" fill="#dc9a40" stroke="#d6d24a" stroke-width="0.35"/><circle cx="129.1" cy="520.2" r="1.4" fill="#a8d838" stroke="#d6d24a" stroke-width="0.35"/><circle cx="129.3" cy="530.3" r="1.4" fill="#cf8236" stroke="#d6d24a" stroke-width="0.35"/><circle cx="133.7" cy="522.9" r="1.4" fill="#d88a3a" stroke="#d6d24a" stroke-width="0.35"/><circle cx="104.5" cy="520.5" r="1.4" fill="#f2837c" stroke="#d6d24a" stroke-width="0.35"/><circle cx="108.5" cy="523.8" r="1.4" fill="#d88a3a" stroke="#d6d24a" stroke-width="0.35"/><circle cx="112.5" cy="523.0" r="1.4" fill="#d88a3a" stroke="#d6d24a" stroke-width="0.35"/><circle cx="113.5" cy="509.5" r="1.0" fill="#6ee62a" stroke="#d6d24a" stroke-width="0.35"/><circle cx="117.0" cy="511.5" r="1.0" fill="#6ee62a" stroke="#d6d24a" stroke-width="0.35"/><circle cx="129.0" cy="535.8" r="1.3" fill="#b5d040" stroke="#d6d24a" stroke-width="0.35"/><circle cx="130.1" cy="540.8" r="1.3" fill="#b5d040" stroke="#d6d24a" stroke-width="0.35"/><circle cx="132.9" cy="545.2" r="1.0" fill="#8a7a30" stroke="#d6d24a" stroke-width="0.35"/><circle cx="137.1" cy="548.6" r="1.3" fill="#b5d040" stroke="#d6d24a" stroke-width="0.35"/><circle cx="142.3" cy="550.6" r="1.0" fill="#8a7a30" stroke="#d6d24a" stroke-width="0.35"/><circle cx="147.3" cy="550.9" r="1.3" fill="#dc9a40" stroke="#d6d24a" stroke-width="0.35"/><circle cx="152.7" cy="549.5" r="1.3" fill="#a8d838" stroke="#d6d24a" stroke-width="0.35"/><circle cx="163.6" cy="533.5" r="1.3" fill="#dc9a40" stroke="#d6d24a" stroke-width="0.35"/><circle cx="164.4" cy="528.5" r="1.3" fill="#c0602c" stroke="#d6d24a" stroke-width="0.35"/><circle cx="163.1" cy="523.4" r="1.3" fill="#b85a2c" stroke="#d6d24a" stroke-width="0.35"/><circle cx="160.5" cy="518.7" r="1.3" fill="#b5532a" stroke="#d6d24a" stroke-width="0.35"/><circle cx="156.3" cy="515.3" r="1.3" fill="#d88a3a" stroke="#d6d24a" stroke-width="0.35"/><circle cx="151.2" cy="513.2" r="1.3" fill="#b85a2c" stroke="#d6d24a" stroke-width="0.35"/><circle cx="146.2" cy="513.2" r="1.3" fill="#a8d838" stroke="#d6d24a" stroke-width="0.35"/><circle cx="141.0" cy="515.1" r="1.3" fill="#d9923c" stroke="#d6d24a" stroke-width="0.35"/><circle cx="136.7" cy="518.4" r="1.3" fill="#cf8236" stroke="#d6d24a" stroke-width="0.35"/><circle cx="161.3" cy="538.6" r="1.4" fill="#d9923c" stroke="#d6d24a" stroke-width="0.35"/><circle cx="156.9" cy="546.3" r="1.4" fill="#dc9a40" stroke="#d6d24a" stroke-width="0.35"/><circle cx="166.0" cy="541.3" r="1.4" fill="#dc9a40" stroke="#d6d24a" stroke-width="0.35"/><circle cx="161.7" cy="549.1" r="1.4" fill="#d88a3a" stroke="#d6d24a" stroke-width="0.35"/><circle cx="170.6" cy="544.1" r="1.4" fill="#d88a3a" stroke="#d6d24a" stroke-width="0.35"/><circle cx="166.0" cy="551.4" r="1.4" fill="#cf8236" stroke="#d6d24a" stroke-width="0.35"/><circle cx="176.9" cy="542.8" r="1.4" fill="#cf8236" stroke="#d6d24a" stroke-width="0.35"/><circle cx="183.6" cy="542.1" r="1.4" fill="#cf8236" stroke="#d6d24a" stroke-width="0.35"/><circle cx="166.7" cy="556.9" r="1.4" fill="#dc9a40" stroke="#d6d24a" stroke-width="0.35"/><circle cx="169.1" cy="561.5" r="1.4" fill="#b85a2c" stroke="#d6d24a" stroke-width="0.35"/><circle cx="188.5" cy="556.9" r="1.4" fill="#a8d838" stroke="#d6d24a" stroke-width="0.35"/><circle cx="191.7" cy="553.0" r="1.4" fill="#b5d040" stroke="#d6d24a" stroke-width="0.35"/><circle cx="185.7" cy="560.7" r="1.4" fill="#f2837c" stroke="#d6d24a" stroke-width="0.35"/><circle cx="190.1" cy="541.3" r="1.3" fill="#dc9a40" stroke="#d6d24a" stroke-width="0.35"/><circle cx="194.5" cy="549.1" r="1.4" fill="#d88a3a" stroke="#d6d24a" stroke-width="0.35"/><circle cx="195.1" cy="538.6" r="1.3" fill="#c0cc3c" stroke="#d6d24a" stroke-width="0.35"/><circle cx="199.8" cy="546.7" r="1.4" fill="#dc9a40" stroke="#d6d24a" stroke-width="0.35"/><circle cx="200.2" cy="535.8" r="1.15" fill="#6ee62a" stroke="#d6d24a" stroke-width="0.35"/><circle cx="204.9" cy="543.6" r="1.4" fill="#a8d838" stroke="#d6d24a" stroke-width="0.35"/><circle cx="204.9" cy="533.0" r="1.15" fill="#6ee62a" stroke="#d6d24a" stroke-width="0.35"/><circle cx="209.1" cy="540.8" r="1.4" fill="#a8d838" stroke="#d6d24a" stroke-width="0.35"/><circle cx="209.3" cy="530.4" r="1.3" fill="#b5d040" stroke="#d6d24a" stroke-width="0.35"/><circle cx="213.8" cy="537.9" r="1.4" fill="#d88a3a" stroke="#d6d24a" stroke-width="0.35"/><circle cx="213.9" cy="527.7" r="1.3" fill="#cf8236" stroke="#d6d24a" stroke-width="0.35"/><circle cx="218.4" cy="535.4" r="1.4" fill="#a8d838" stroke="#d6d24a" stroke-width="0.35"/><circle cx="197.9" cy="548.6" r="1.4" fill="#a8d838" stroke="#d6d24a" stroke-width="0.35"/><circle cx="202.2" cy="545.2" r="1.0" fill="#f060a0" stroke="#d6d24a" stroke-width="0.35"/><circle cx="197.4" cy="536.3" r="0.9" fill="#f060a0" stroke="#d6d24a" stroke-width="0.35"/><circle cx="216.3" cy="523.8" r="1.0" fill="#6ee62a" stroke="#d6d24a" stroke-width="0.35"/><circle cx="220.5" cy="522.3" r="1.3" fill="#dc9a40" stroke="#d6d24a" stroke-width="0.35"/><circle cx="224.7" cy="523.8" r="1.3" fill="#cf8236" stroke="#d6d24a" stroke-width="0.35"/><circle cx="227.2" cy="528.0" r="1.3" fill="#c0cc3c" stroke="#d6d24a" stroke-width="0.35"/><circle cx="226.4" cy="532.4" r="1.3" fill="#dc9a40" stroke="#d6d24a" stroke-width="0.35"/><circle cx="222.8" cy="535.5" r="1.3" fill="#f2837c" stroke="#d6d24a" stroke-width="0.35"/><circle cx="173.7" cy="564.6" r="1.15" fill="#a8d838" stroke="#d6d24a" stroke-width="0.35"/><circle cx="182.3" cy="564.6" r="1.55" fill="#c87f32" stroke="#d6d24a" stroke-width="0.35"/><circle cx="173.7" cy="569.9" r="1.15" fill="#c9b53a" stroke="#d6d24a" stroke-width="0.35"/><circle cx="182.3" cy="569.9" r="1.55" fill="#c98a3a" stroke="#d6d24a" stroke-width="0.35"/><circle cx="173.7" cy="575.1" r="1.15" fill="#c6c43a" stroke="#d6d24a" stroke-width="0.35"/><circle cx="182.3" cy="575.1" r="1.55" fill="#bf7530" stroke="#d6d24a" stroke-width="0.35"/><circle cx="173.7" cy="580.4" r="1.15" fill="#b9cf3c" stroke="#d6d24a" stroke-width="0.35"/><circle cx="182.3" cy="580.4" r="1.55" fill="#d08a35" stroke="#d6d24a" stroke-width="0.35"/><circle cx="173.7" cy="585.7" r="1.15" fill="#b9cf3c" stroke="#d6d24a" stroke-width="0.35"/><circle cx="182.3" cy="585.7" r="1.55" fill="#cf7a38" stroke="#d6d24a" stroke-width="0.35"/><circle cx="173.7" cy="591.0" r="1.15" fill="#a8d838" stroke="#d6d24a" stroke-width="0.35"/><circle cx="182.3" cy="591.0" r="1.55" fill="#cf7a38" stroke="#d6d24a" stroke-width="0.35"/><circle cx="173.7" cy="596.2" r="1.15" fill="#c6c43a" stroke="#d6d24a" stroke-width="0.35"/><circle cx="182.3" cy="596.2" r="1.55" fill="#d08a35" stroke="#d6d24a" stroke-width="0.35"/><circle cx="173.7" cy="601.5" r="1.15" fill="#c9b53a" stroke="#d6d24a" stroke-width="0.35"/><circle cx="182.3" cy="601.5" r="1.55" fill="#d08a35" stroke="#d6d24a" stroke-width="0.35"/><circle cx="173.7" cy="606.8" r="1.15" fill="#b9cf3c" stroke="#d6d24a" stroke-width="0.35"/><circle cx="182.3" cy="606.8" r="1.55" fill="#cf7a38" stroke="#d6d24a" stroke-width="0.35"/><circle cx="173.7" cy="612.1" r="1.15" fill="#c9b53a" stroke="#d6d24a" stroke-width="0.35"/><circle cx="182.3" cy="612.1" r="1.55" fill="#d08a35" stroke="#d6d24a" stroke-width="0.35"/><circle cx="173.7" cy="617.3" r="1.15" fill="#b4d23a" stroke="#d6d24a" stroke-width="0.35"/><circle cx="182.3" cy="617.3" r="1.55" fill="#c98a3a" stroke="#d6d24a" stroke-width="0.35"/><circle cx="173.7" cy="622.6" r="1.15" fill="#c6c43a" stroke="#d6d24a" stroke-width="0.35"/><circle cx="182.3" cy="622.6" r="1.55" fill="#d08a35" stroke="#d6d24a" stroke-width="0.35"/><circle cx="174.7" cy="619.9" r="1.4" fill="#6ee62a" stroke="#d6d24a" stroke-width="0.35"/><circle cx="168.4" cy="619.5" r="1.4" fill="#6ee62a" stroke="#d6d24a" stroke-width="0.35"/><circle cx="162.1" cy="620.4" r="1.4" fill="#6ee62a" stroke="#d6d24a" stroke-width="0.35"/><circle cx="156.3" cy="622.4" r="1.4" fill="#6ee62a" stroke="#d6d24a" stroke-width="0.35"/><circle cx="151.4" cy="625.6" r="1.4" fill="#6ee62a" stroke="#d6d24a" stroke-width="0.35"/><circle cx="147.6" cy="629.6" r="1.4" fill="#f2837c" stroke="#d6d24a" stroke-width="0.35"/><circle cx="145.3" cy="634.2" r="1.4" fill="#6ee62a" stroke="#d6d24a" stroke-width="0.35"/><circle cx="144.5" cy="639.1" r="1.4" fill="#6ee62a" stroke="#d6d24a" stroke-width="0.35"/><circle cx="145.4" cy="644.0" r="1.4" fill="#6ee62a" stroke="#d6d24a" stroke-width="0.35"/><circle cx="146.0" cy="645.7" r="1.2" fill="#888" stroke="#d6d24a" stroke-width="0.35"/><circle cx="148.3" cy="649.3" r="1.2" fill="#c9b53a" stroke="#d6d24a" stroke-width="0.35"/><circle cx="152.1" cy="653.0" r="1.2" fill="#6ee62a" stroke="#d6d24a" stroke-width="0.35"/><circle cx="157.0" cy="655.9" r="1.2" fill="#555" stroke="#d6d24a" stroke-width="0.35"/><circle cx="161.8" cy="657.5" r="1.2" fill="#c9b53a" stroke="#d6d24a" stroke-width="0.35"/><circle cx="166.9" cy="658.4" r="1.2" fill="#6ee62a" stroke="#d6d24a" stroke-width="0.35"/><circle cx="172.1" cy="658.4" r="1.2" fill="#333" stroke="#d6d24a" stroke-width="0.35"/><circle cx="182.0" cy="622.1" r="1.55" fill="#cf7a38" stroke="#d6d24a" stroke-width="0.35"/><circle cx="186.8" cy="624.9" r="1.55" fill="#c87f32" stroke="#d6d24a" stroke-width="0.35"/><circle cx="190.6" cy="628.6" r="1.55" fill="#d08a35" stroke="#d6d24a" stroke-width="0.35"/><circle cx="193.2" cy="632.8" r="1.55" fill="#bf7530" stroke="#d6d24a" stroke-width="0.35"/><circle cx="194.4" cy="637.4" r="1.55" fill="#cf7a38" stroke="#d6d24a" stroke-width="0.35"/><circle cx="194.2" cy="642.1" r="1.55" fill="#c98a3a" stroke="#d6d24a" stroke-width="0.35"/><circle cx="192.5" cy="646.6" r="1.55" fill="#c98a3a" stroke="#d6d24a" stroke-width="0.35"/><circle cx="189.6" cy="650.6" r="1.55" fill="#c87f32" stroke="#d6d24a" stroke-width="0.35"/><circle cx="185.4" cy="654.0" r="1.55" fill="#cf7a38" stroke="#d6d24a" stroke-width="0.35"/><circle cx="180.4" cy="656.6" r="1.55" fill="#d08a35" stroke="#d6d24a" stroke-width="0.35"/><circle cx="174.7" cy="658.1" r="1.55" fill="#bf7530" stroke="#d6d24a" stroke-width="0.35"/><circle cx="173.7" cy="654.5" r="1.15" fill="#a8d838" stroke="#d6d24a" stroke-width="0.35"/><circle cx="182.3" cy="654.5" r="1.55" fill="#bf7530" stroke="#d6d24a" stroke-width="0.35"/><circle cx="173.7" cy="660.0" r="1.15" fill="#b4d23a" stroke="#d6d24a" stroke-width="0.35"/><circle cx="182.3" cy="660.0" r="1.55" fill="#c98a3a" stroke="#d6d24a" stroke-width="0.35"/><circle cx="173.7" cy="665.5" r="1.15" fill="#c6c43a" stroke="#d6d24a" stroke-width="0.35"/><circle cx="182.3" cy="665.5" r="1.55" fill="#bf7530" stroke="#d6d24a" stroke-width="0.35"/><circle cx="173.7" cy="671.0" r="1.15" fill="#b4d23a" stroke="#d6d24a" stroke-width="0.35"/><circle cx="182.3" cy="671.0" r="1.55" fill="#c87f32" stroke="#d6d24a" stroke-width="0.35"/><circle cx="186.5" cy="668.5" r="1.2" fill="#6ee62a" stroke="#d6d24a" stroke-width="0.35"/><circle cx="72.7" cy="680.2" r="1.4" fill="#a9d43a" stroke="#d6d24a" stroke-width="0.35"/><circle cx="78.2" cy="680.2" r="1.4" fill="#a9d43a" stroke="#d6d24a" stroke-width="0.35"/><circle cx="83.6" cy="680.2" r="1.4" fill="#6ee62a" stroke="#d6d24a" stroke-width="0.35"/><circle cx="89.1" cy="680.2" r="1.4" fill="#c9b53a" stroke="#d6d24a" stroke-width="0.35"/><circle cx="94.5" cy="680.2" r="1.4" fill="#f2837c" stroke="#d6d24a" stroke-width="0.35"/><circle cx="100.0" cy="680.2" r="1.4" fill="#e0a040" stroke="#d6d24a" stroke-width="0.35"/><circle cx="105.4" cy="680.2" r="1.4" fill="#f2837c" stroke="#d6d24a" stroke-width="0.35"/><circle cx="121.7" cy="680.2" r="1.4" fill="#c9b53a" stroke="#d6d24a" stroke-width="0.35"/><circle cx="127.1" cy="680.2" r="1.4" fill="#6ee62a" stroke="#d6d24a" stroke-width="0.35"/><circle cx="132.5" cy="680.2" r="1.4" fill="#d79a3a" stroke="#d6d24a" stroke-width="0.35"/><circle cx="138.0" cy="680.2" r="1.4" fill="#c9b53a" stroke="#d6d24a" stroke-width="0.35"/><circle cx="143.4" cy="680.2" r="1.4" fill="#6ee62a" stroke="#d6d24a" stroke-width="0.35"/><circle cx="148.8" cy="680.2" r="1.4" fill="#f2837c" stroke="#d6d24a" stroke-width="0.35"/><circle cx="154.2" cy="680.2" r="1.4" fill="#d9b04a" stroke="#d6d24a" stroke-width="0.35"/><circle cx="159.6" cy="680.2" r="1.4" fill="#cf7a38" stroke="#d6d24a" stroke-width="0.35"/><circle cx="165.1" cy="680.2" r="1.4" fill="#d79a3a" stroke="#d6d24a" stroke-width="0.35"/><circle cx="109.4" cy="648.2" r="1.4" fill="#c0cc3c" stroke="#d6d24a" stroke-width="0.35"/><circle cx="118.4" cy="648.2" r="1.4" fill="#dc9a40" stroke="#d6d24a" stroke-width="0.35"/><circle cx="109.4" cy="660.7" r="1.4" fill="#dc9a40" stroke="#d6d24a" stroke-width="0.35"/><circle cx="118.4" cy="660.7" r="1.4" fill="#dc9a40" stroke="#d6d24a" stroke-width="0.35"/><circle cx="109.4" cy="666.0" r="1.4" fill="#dc9a40" stroke="#d6d24a" stroke-width="0.35"/><circle cx="118.4" cy="666.0" r="1.4" fill="#cf8236" stroke="#d6d24a" stroke-width="0.35"/><circle cx="111.3" cy="634.8" r="1.4" fill="#b5d040" stroke="#d6d24a" stroke-width="0.35"/><circle cx="116.5" cy="634.8" r="1.4" fill="#d9923c" stroke="#d6d24a" stroke-width="0.35"/><circle cx="106.9" cy="638.6" r="1.4" fill="#b5d040" stroke="#d6d24a" stroke-width="0.35"/><circle cx="120.9" cy="638.6" r="1.4" fill="#cf8236" stroke="#d6d24a" stroke-width="0.35"/><circle cx="106.9" cy="643.8" r="1.4" fill="#c0cc3c" stroke="#d6d24a" stroke-width="0.35"/><circle cx="121.3" cy="643.8" r="1.4" fill="#cf8236" stroke="#d6d24a" stroke-width="0.35"/><circle cx="118.4" cy="652.4" r="1.4" fill="#dc9a40" stroke="#d6d24a" stroke-width="0.35"/><circle cx="118.4" cy="656.8" r="1.4" fill="#d9923c" stroke="#d6d24a" stroke-width="0.35"/><circle cx="105.9" cy="650.7" r="1.4" fill="#f2837c" stroke="#d6d24a" stroke-width="0.35"/><circle cx="105.6" cy="654.3" r="1.4" fill="#f2837c" stroke="#d6d24a" stroke-width="0.35"/><circle cx="105.9" cy="658.2" r="1.5" fill="#f2837c" stroke="#d6d24a" stroke-width="0.35"/><circle cx="107.5" cy="673.1" r="1.4" fill="#f2837c" stroke="#d6d24a" stroke-width="0.35"/><circle cx="63.9" cy="603.5" r="1.15" fill="#b4d23a" stroke="#d6d24a" stroke-width="0.35"/><circle cx="72.7" cy="603.5" r="1.55" fill="#c87f32" stroke="#d6d24a" stroke-width="0.35"/><circle cx="63.9" cy="609.0" r="1.15" fill="#c6c43a" stroke="#d6d24a" stroke-width="0.35"/><circle cx="72.7" cy="609.0" r="1.55" fill="#bf7530" stroke="#d6d24a" stroke-width="0.35"/><circle cx="63.9" cy="614.5" r="1.15" fill="#a8d838" stroke="#d6d24a" stroke-width="0.35"/><circle cx="72.7" cy="614.5" r="1.55" fill="#cf7a38" stroke="#d6d24a" stroke-width="0.35"/><circle cx="63.9" cy="620.0" r="1.15" fill="#b4d23a" stroke="#d6d24a" stroke-width="0.35"/><circle cx="72.7" cy="620.0" r="1.55" fill="#c87f32" stroke="#d6d24a" stroke-width="0.35"/><circle cx="63.9" cy="625.5" r="1.15" fill="#b4d23a" stroke="#d6d24a" stroke-width="0.35"/><circle cx="72.7" cy="625.5" r="1.55" fill="#c98a3a" stroke="#d6d24a" stroke-width="0.35"/><circle cx="63.9" cy="631.0" r="1.15" fill="#b9cf3c" stroke="#d6d24a" stroke-width="0.35"/><circle cx="72.7" cy="631.0" r="1.55" fill="#c98a3a" stroke="#d6d24a" stroke-width="0.35"/><circle cx="63.9" cy="636.5" r="1.15" fill="#b4d23a" stroke="#d6d24a" stroke-width="0.35"/><circle cx="72.7" cy="636.5" r="1.55" fill="#c98a3a" stroke="#d6d24a" stroke-width="0.35"/><circle cx="63.9" cy="642.0" r="1.15" fill="#c6c43a" stroke="#d6d24a" stroke-width="0.35"/><circle cx="72.7" cy="642.0" r="1.55" fill="#c98a3a" stroke="#d6d24a" stroke-width="0.35"/><circle cx="63.9" cy="647.5" r="1.15" fill="#c6c43a" stroke="#d6d24a" stroke-width="0.35"/><circle cx="72.7" cy="647.5" r="1.55" fill="#bf7530" stroke="#d6d24a" stroke-width="0.35"/><circle cx="63.9" cy="653.0" r="1.15" fill="#b4d23a" stroke="#d6d24a" stroke-width="0.35"/><circle cx="72.7" cy="653.0" r="1.55" fill="#bf7530" stroke="#d6d24a" stroke-width="0.35"/><circle cx="63.9" cy="658.5" r="1.15" fill="#a8d838" stroke="#d6d24a" stroke-width="0.35"/><circle cx="72.7" cy="658.5" r="1.55" fill="#cf7a38" stroke="#d6d24a" stroke-width="0.35"/><circle cx="63.9" cy="664.0" r="1.15" fill="#b4d23a" stroke="#d6d24a" stroke-width="0.35"/><circle cx="72.7" cy="664.0" r="1.55" fill="#cf7a38" stroke="#d6d24a" stroke-width="0.35"/><circle cx="63.9" cy="669.5" r="1.15" fill="#c6c43a" stroke="#d6d24a" stroke-width="0.35"/><circle cx="72.7" cy="669.5" r="1.55" fill="#d08a35" stroke="#d6d24a" stroke-width="0.35"/><circle cx="63.9" cy="675.0" r="1.15" fill="#c6c43a" stroke="#d6d24a" stroke-width="0.35"/><circle cx="72.7" cy="675.0" r="1.55" fill="#cf7a38" stroke="#d6d24a" stroke-width="0.35"/><circle cx="63.9" cy="598.8" r="1.4" fill="#cf7a38" stroke="#d6d24a" stroke-width="0.35"/><circle cx="64.4" cy="594.6" r="1.4" fill="#c9b53a" stroke="#d6d24a" stroke-width="0.35"/><circle cx="68.2" cy="592.6" r="1.4" fill="#e0a040" stroke="#d6d24a" stroke-width="0.35"/><circle cx="72.0" cy="594.6" r="1.4" fill="#6ee62a" stroke="#d6d24a" stroke-width="0.35"/><circle cx="72.5" cy="598.8" r="1.4" fill="#cf7a38" stroke="#d6d24a" stroke-width="0.35"/><circle cx="77.0" cy="664.0" r="1.4" fill="#f2837c" stroke="#d6d24a" stroke-width="0.35"/><circle cx="76.5" cy="659.5" r="1.4" fill="#f2837c" stroke="#d6d24a" stroke-width="0.35"/><circle cx="75.0" cy="669.0" r="1.4" fill="#cf7a38" stroke="#d6d24a" stroke-width="0.35"/><circle cx="59.5" cy="624.0" r="1.2" fill="#6ee62a" stroke="#d6d24a" stroke-width="0.35"/><circle cx="60.5" cy="628.0" r="1.0" fill="#3333ff" stroke="#d6d24a" stroke-width="0.35"/><circle cx="61.5" cy="620.0" r="1.0" fill="#6ee62a" stroke="#d6d24a" stroke-width="0.35"/><circle cx="63.9" cy="661.0" r="0.9" fill="#ff44ff" stroke="#d6d24a" stroke-width="0.35"/><circle cx="63.9" cy="666.0" r="0.9" fill="#ff44ff" stroke="#d6d24a" stroke-width="0.35"/><circle cx="63.9" cy="671.0" r="0.9" fill="#6ee62a" stroke="#d6d24a" stroke-width="0.35"/><circle cx="63.9" cy="676.0" r="0.9" fill="#6ee62a" stroke="#d6d24a" stroke-width="0.35"/><circle cx="63.9" cy="681.0" r="0.9" fill="#ff44ff" stroke="#d6d24a" stroke-width="0.35"/><circle cx="63.9" cy="686.0" r="0.9" fill="#6ee62a" stroke="#d6d24a" stroke-width="0.35"/></g></svg>
<div class="circ" style="left:7.0px;top:7.199999999999999px">A</div><div class="circ" style="left:6.100000000000001px;top:50.8px">B</div><div class="circ" style="left:5.199999999999999px;top:221.5px">C</div><div class="circ" style="left:526.1px;top:222.3px">D</div></body></html>
